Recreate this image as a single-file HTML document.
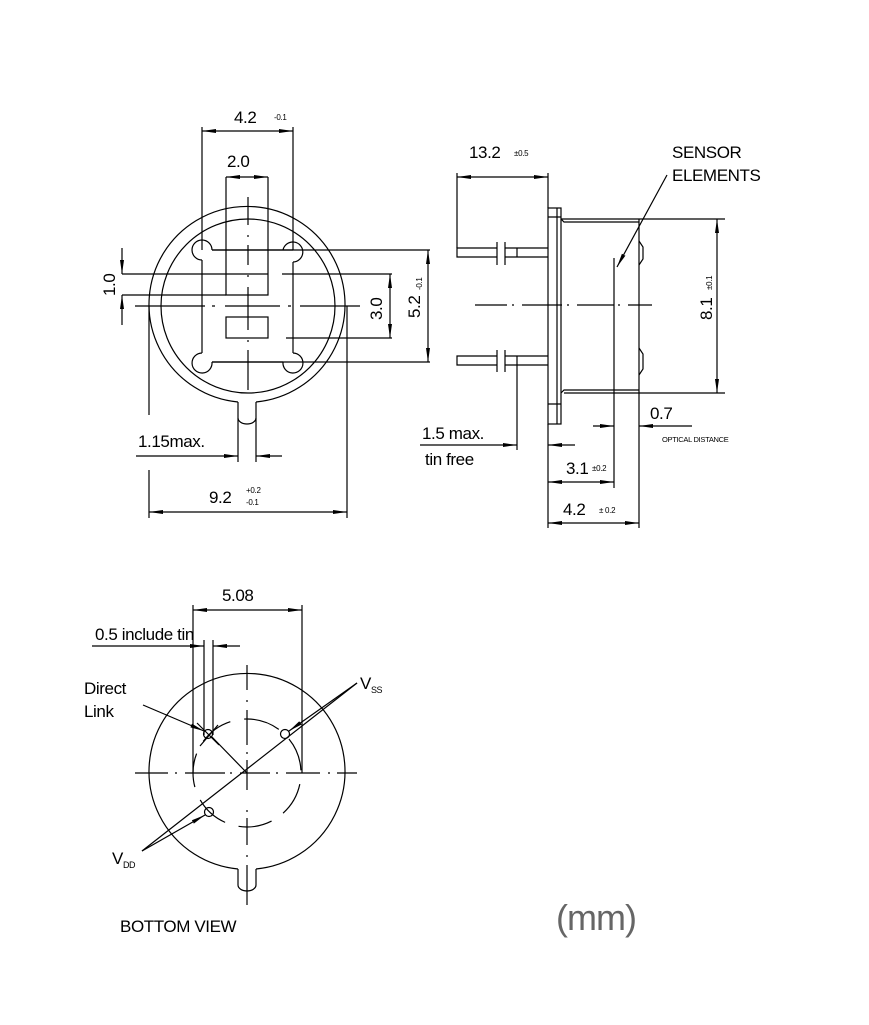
<!DOCTYPE html>
<html><head><meta charset="utf-8"><style>
html,body{margin:0;padding:0;background:#fff}
svg{display:block}
text{font-family:"Liberation Sans",sans-serif;fill:#000}
.s{font-size:8px;letter-spacing:-0.3px}
.m{font-size:17px;letter-spacing:-0.4px}
</style></head><body>
<svg width="869" height="1025" viewBox="0 0 869 1025" xmlns="http://www.w3.org/2000/svg">
<defs>
<marker id="a" markerUnits="userSpaceOnUse" markerWidth="14" markerHeight="6" refX="14" refY="3" orient="auto-start-reverse"><path d="M0,1 L14,3 L0,5 z" fill="#000"/></marker>
</defs>
<g fill="none" stroke="#000" stroke-width="1.2">
<!-- TOP VIEW -->
<path d="M238,402 A98,98 0 1 1 256,402"/>
<path d="M238,402 L238,418 A9,6 0 0 0 256,418 L256,402"/>
<circle cx="248" cy="306" r="87"/>
<path d="M212,250 L293,250 M293,262 L293,353 M202,260 L202,353 M212,362 L283,362"/>
<path d="M202,260 A10,10 0 1 1 212,250"/>
<path d="M283,250 A10,10 0 1 1 293,262" />
<path d="M202,353 A10,10 0 1 0 212,362"/>
<path d="M293,353 A10,10 0 1 1 283,362"/>
<path d="M202,127 L202,250 M293,127 L293,250"/>
<line x1="202" y1="131" x2="293" y2="131" marker-start="url(#a)" marker-end="url(#a)"/>
<path d="M226,177 L226,295 L268,295 L268,177"/>
<line x1="226" y1="177" x2="268" y2="177" marker-start="url(#a)" marker-end="url(#a)"/>
<rect x="226" y="317" width="42" height="21"/>
<path d="M122,274 L268,274 M282,274 L392,274 M122,295 L226,295 M286,338 L392,338"/>
<line x1="122" y1="248" x2="122" y2="274" marker-end="url(#a)"/>
<line x1="122" y1="325" x2="122" y2="295" marker-end="url(#a)"/>
<line x1="390" y1="274" x2="390" y2="338" marker-start="url(#a)" marker-end="url(#a)"/>
<path d="M212,250 L430,250 M212,362 L430,362"/>
<line x1="428" y1="250" x2="428" y2="362" marker-start="url(#a)" marker-end="url(#a)"/>
<path d="M135,306 L205,306 M212,306 L215,306 M225,306 L280,306 M288,306 L291,306 M300,306 L360,306"/>
<path d="M248,197 L248,225 M248,235 L248,237 M248,245 L248,265 M248,275 L248,277 M248,287 L248,330 M248,340 L248,342 M248,350 L248,390"/>
<path d="M149,306 L149,415 M149,470 L149,518 M347,306 L347,518"/>
<line x1="149" y1="512" x2="347" y2="512" marker-start="url(#a)" marker-end="url(#a)"/>
<path d="M238,418 L238,462 M256,418 L256,462"/>
<line x1="136" y1="456" x2="238" y2="456" marker-end="url(#a)"/>
<line x1="282" y1="456" x2="256" y2="456" marker-end="url(#a)"/>

<!-- SIDE VIEW -->
<rect x="548" y="208" width="13" height="216"/>
<path d="M557,208 L557,424 M548,217 L561,217 M548,404 L561,404"/>
<path d="M561,219 L564,222 L639,222 M561,393 L564,390 L639,390 M639,219 L639,393 M561,219 L725,219 M564,393 L725,393"/>
<path d="M639,241 L643,247 L643,259 L639,265 M639,348 L643,354 L643,369 L639,375"/>
<path d="M497,248 L457,248 L457,257 L497,257 M505,248 L548,248 M505,257 L548,257"/>
<path d="M497,356 L457,356 L457,365 L497,365 M505,356 L548,356 M505,365 L548,365"/>
<path d="M497,242 L497,265 M505,242 L505,265 M517,248 L517,257 M497,350 L497,372 M505,350 L505,372 M517,356 L517,450"/>
<path d="M457,173 L457,248 M548,173 L548,208 M548,424 L548,528"/>
<line x1="457" y1="177" x2="548" y2="177" marker-start="url(#a)" marker-end="url(#a)"/>
<path d="M475,305 L507,305 M512,305 L514,305 M522,305 L562,305 M567,305 L569,305 M577,305 L614,305 M618,305 L620,305 M628,305 L652,305"/>
<line x1="717" y1="219" x2="717" y2="393" marker-start="url(#a)" marker-end="url(#a)"/>
<path d="M614,258 L614,488 M639,393 L639,528"/>
<line x1="667" y1="175" x2="617" y2="267" marker-end="url(#a)"/>
<line x1="593" y1="426" x2="614" y2="426" marker-end="url(#a)"/>
<line x1="692" y1="426" x2="639" y2="426" marker-end="url(#a)"/>
<line x1="420" y1="445" x2="517" y2="445" marker-end="url(#a)"/>
<line x1="575" y1="445" x2="548" y2="445" marker-end="url(#a)"/>
<line x1="548" y1="482" x2="614" y2="482" marker-start="url(#a)" marker-end="url(#a)"/>
<line x1="548" y1="523" x2="639" y2="523" marker-start="url(#a)" marker-end="url(#a)"/>

<!-- BOTTOM VIEW -->
<path d="M238,869 A98,98 0 1 1 256,869"/>
<path d="M238,869 L238,885 A9,6 0 0 0 256,885 L256,869"/>
<circle cx="247" cy="773" r="54" stroke-dasharray="34,14" transform="rotate(-90 247 773)"/>
<path d="M135,773 L168,773 M175,773 L177,773 M185,773 L225,773 M230,773 L232,773 M240,773 L270,773 M276,773 L278,773 M286,773 L320,773 M328,773 L330,773 M337,773 L357,773"/>
<path d="M247,665 L247,690 M247,700 L247,702 M247,710 L247,745 M247,752 L247,754 M247,760 L247,790 M247,810 L247,812 M247,818 L247,845 M247,855 L247,857 M247,865 L247,905"/>
<circle cx="208" cy="734" r="4.5"/>
<circle cx="285" cy="734" r="4.5"/>
<circle cx="209" cy="812" r="4.5"/>
<path d="M197,723 L219,745 M218,725 L200,746"/>
<path d="M247,773 L212,737"/>
<path d="M142,851 L357,683"/>
<line x1="143" y1="705" x2="204" y2="731" marker-end="url(#a)"/>
<line x1="357" y1="683" x2="289" y2="731" marker-end="url(#a)"/>
<line x1="142" y1="851" x2="205" y2="815" marker-end="url(#a)"/>
<path d="M193,605 L193,773 M302,605 L302,773"/>
<line x1="193" y1="610" x2="302" y2="610" marker-start="url(#a)" marker-end="url(#a)"/>
<path d="M204,640 L204,735 M213,640 L213,735"/>
<line x1="92" y1="646" x2="204" y2="646" marker-end="url(#a)"/>
<line x1="240" y1="646" x2="213" y2="646" marker-end="url(#a)"/>
</g>

<text class="m" x="234" y="123">4.2</text>
<text class="s" x="274" y="120">-0.1</text>
<text class="m" x="227" y="167">2.0</text>
<text class="m" transform="translate(115,296) rotate(-90)">1.0</text>
<text class="m" transform="translate(382,320) rotate(-90)">3.0</text>
<text class="m" transform="translate(420,318) rotate(-90)">5.2</text>
<text class="s" transform="translate(422,290) rotate(-90)">-0.1</text>
<text class="m" x="138" y="447">1.15max.</text>
<text class="m" x="209" y="503">9.2</text>
<text class="s" x="246" y="493">+0.2</text>
<text class="s" x="246" y="505">-0.1</text>

<text class="m" x="469" y="158">13.2</text>
<text class="s" x="514" y="156">±0.5</text>
<text class="m" x="672" y="158">SENSOR</text>
<text class="m" x="672" y="181">ELEMENTS</text>
<text class="m" transform="translate(712,320) rotate(-90)">8.1</text>
<text class="s" transform="translate(712,290) rotate(-90)">±0.1</text>
<text class="m" x="650" y="419">0.7</text>
<text x="662" y="442" style="font-size:7.5px;letter-spacing:-0.3px">OPTICAL DISTANCE</text>
<text class="m" x="422" y="439">1.5 max.</text>
<text class="m" x="425" y="465">tin free</text>
<text class="m" x="566" y="474">3.1</text>
<text class="s" x="592" y="471">±0.2</text>
<text class="m" x="563" y="515">4.2</text>
<text class="s" x="599" y="513">± 0.2</text>

<text class="m" x="222" y="601">5.08</text>
<text class="m" x="95" y="640">0.5 include tin</text>
<text class="m" x="84" y="694">Direct</text>
<text class="m" x="84" y="717">Link</text>
<text class="m" x="360" y="689">V<tspan style="font-size:9px" dy="4">SS</tspan></text>
<text class="m" x="112" y="864">V<tspan style="font-size:9px" dy="4">DD</tspan></text>
<text class="m" x="120" y="932">BOTTOM VIEW</text>
<text x="556" y="930" style="font-size:36px;fill:#666;letter-spacing:-1px">(mm)</text>
</svg>
</body></html>
